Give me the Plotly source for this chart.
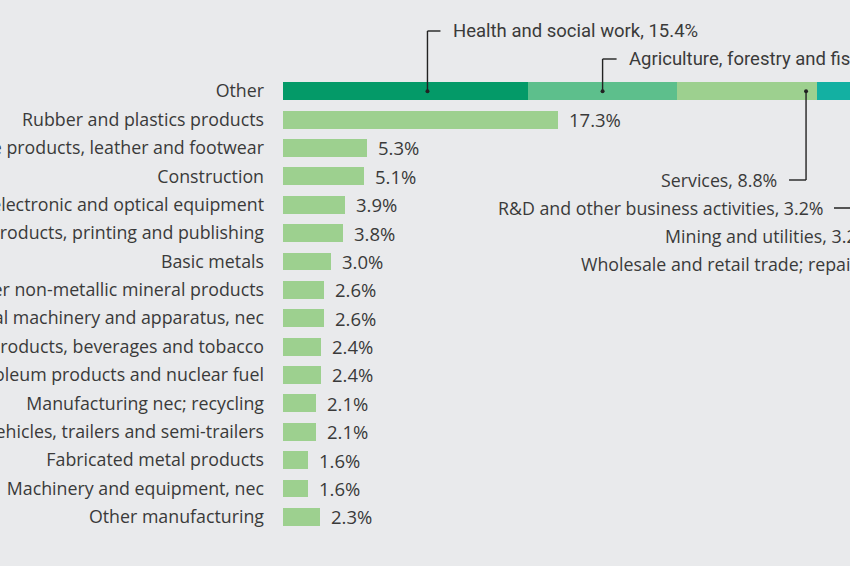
import plotly.graph_objects as go

# ---- data ----
categories = ["Rubber and plastics products",
              "Textiles, textile products, leather and footwear",
              "Construction",
              "Electrical, electronic and optical equipment",
              "Pulp, paper, paper products, printing and publishing",
              "Basic metals",
              "Other non-metallic mineral products",
              "Electrical machinery and apparatus, nec",
              "Food products, beverages and tobacco",
              "Coke, refined petroleum products and nuclear fuel",
              "Manufacturing nec; recycling",
              "Motor vehicles, trailers and semi-trailers",
              "Fabricated metal products",
              "Machinery and equipment, nec",
              "Other manufacturing"]
values = [17.3, 5.3, 5.1, 3.9, 3.8, 3.0, 2.6, 2.6, 2.4, 2.4, 2.1, 2.1, 1.6, 1.6, 2.3]

other_label = "Other"
other_segments = ["Health and social work", "Agriculture, forestry and fishing", "Services",
                  "R&D and other business activities", "Mining and utilities",
                  "Wholesale and retail trade; repairs"]
other_values = [15.4, 9.4, 8.8, 3.2, 3.2, 1.9]
other_colors = ["#049a68", "#5dbf8c", "#9dd08f", "#13b0a2", "#1a8fa8", "#3a6f9c"]
bar_color = "#9dd08f"

# ---- layout constants ----
W, H = 850, 566
ML, MR, MT, MB = 283, 0, 77, 35
PX_PER_UNIT = 15.9
xmax = (W - ML - MR) / PX_PER_UNIT
BG = "#e9eaec"
TXT = "#3a3a3a"
FONT = "Open Sans"
FS = 17.8
VFS = 18.5
CALLOUT_FONT = "Roboto"
CFS = 18.5

def px_to_py(p):
    return (H - MB - p) / (H - MT - MB)

def px_to_px(p):
    return (p - ML) / (W - ML - MR)

def data_to_px(x):
    return ML + x * PX_PER_UNIT

rows = [other_label] + categories

fig = go.Figure()
starts = []
cum = 0
for name, v, c in zip(other_segments, other_values, other_colors):
    starts.append(cum)
    fig.add_trace(go.Bar(x=[v], y=[other_label], orientation="h", marker_color=c,
                         marker_line_width=0, name=name, hoverinfo="x+name"))
    cum += v
fig.add_trace(go.Bar(x=values, y=categories, orientation="h", marker_color=bar_color,
                     marker_line_width=0, name="Manufacturing"))

annotations = []
for cat, v in zip(categories, values):
    annotations.append(dict(x=v, y=cat, xref="x", yref="y", text=f"{v:.1f}%",
                            showarrow=False, xanchor="left", xshift=9,
                            font=dict(family=FONT, size=VFS, color=TXT)))

shapes = []
line_style = dict(color="#222222", width=1.4)

lead_frac = [0.59, 0.50, 0.92]
row0_y = 91

def seg_px(i):
    return data_to_px(starts[i] + lead_frac[i] * other_values[i])

hx = seg_px(0)
shapes.append(dict(type="line", xref="paper", yref="paper", x0=px_to_px(hx), x1=px_to_px(hx),
                   y0=px_to_py(row0_y), y1=px_to_py(31), line=line_style))
shapes.append(dict(type="line", xref="paper", yref="paper", x0=px_to_px(hx), x1=px_to_px(hx + 13),
                   y0=px_to_py(31), y1=px_to_py(31), line=line_style))
annotations.append(dict(x=px_to_px(hx + 24), y=px_to_py(31), xref="paper", yref="paper",
                        text=f"{other_segments[0]}, {other_values[0]}%", showarrow=False,
                        xanchor="left", yanchor="middle",
                        font=dict(family=CALLOUT_FONT, size=CFS, color=TXT)))
ax = seg_px(1)
shapes.append(dict(type="line", xref="paper", yref="paper", x0=px_to_px(ax), x1=px_to_px(ax),
                   y0=px_to_py(row0_y), y1=px_to_py(59), line=line_style))
shapes.append(dict(type="line", xref="paper", yref="paper", x0=px_to_px(ax), x1=px_to_px(ax + 14),
                   y0=px_to_py(59), y1=px_to_py(59), line=line_style))
annotations.append(dict(x=px_to_px(ax + 24), y=px_to_py(59), xref="paper", yref="paper",
                        text=f"{other_segments[1]}, {other_values[1]}%", showarrow=False,
                        xanchor="left", yanchor="middle",
                        font=dict(family=CALLOUT_FONT, size=CFS, color=TXT)))
sx = seg_px(2)
shapes.append(dict(type="line", xref="paper", yref="paper", x0=px_to_px(sx), x1=px_to_px(sx),
                   y0=px_to_py(row0_y), y1=px_to_py(180), line=line_style))
shapes.append(dict(type="line", xref="paper", yref="paper", x0=px_to_px(sx), x1=px_to_px(sx - 17),
                   y0=px_to_py(180), y1=px_to_py(180), line=line_style))
annotations.append(dict(x=px_to_px(sx - 27), y=px_to_py(180), xref="paper", yref="paper",
                        text=f"{other_segments[2]}, {other_values[2]}%", showarrow=False,
                        xanchor="right", yanchor="middle",
                        font=dict(family=FONT, size=FS, color=TXT)))
annotations.append(dict(x=px_to_px(826), y=px_to_py(208), xref="paper", yref="paper",
                        text=f"{other_segments[3]}, {other_values[3]}%", showarrow=False,
                        xanchor="right", yanchor="middle",
                        font=dict(family=FONT, size=FS, color=TXT)))
shapes.append(dict(type="line", xref="paper", yref="paper", x0=px_to_px(834), x1=px_to_px(880),
                   y0=px_to_py(208), y1=px_to_py(208), line=line_style))
annotations.append(dict(x=px_to_px(663), y=px_to_py(236), xref="paper", yref="paper",
                        text=f"{other_segments[4]}, {other_values[4]}%", showarrow=False,
                        xanchor="left", yanchor="middle",
                        font=dict(family=FONT, size=FS, color=TXT)))
annotations.append(dict(x=px_to_px(579), y=px_to_py(264), xref="paper", yref="paper",
                        text=f"{other_segments[5]}, {other_values[5]}%", showarrow=False,
                        xanchor="left", yanchor="middle",
                        font=dict(family=FONT, size=FS, color=TXT)))

dot_x = [starts[i] + lead_frac[i] * other_values[i] for i in range(3)]
fig.add_trace(go.Scatter(x=dot_x, y=[other_label] * 3, mode="markers",
                         marker=dict(color="#222222", size=4), hoverinfo="skip", showlegend=False))

fig.update_layout(
    width=W, height=H, barmode="stack", bargap=0.37, showlegend=False,
    paper_bgcolor=BG, plot_bgcolor=BG,
    margin=dict(l=ML, r=MR, t=MT, b=MB, autoexpand=False),
    xaxis=dict(range=[0, xmax], visible=False, fixedrange=True),
    yaxis=dict(categoryorder="array", categoryarray=rows,
               range=[len(rows) - 0.5, -0.5], autorange=False,
               showgrid=False, zeroline=False, showline=False, ticks="",
               ticklabelstandoff=18, automargin=False, fixedrange=True,
               tickfont=dict(family=FONT, size=FS, color=TXT)),
    annotations=annotations, shapes=shapes,
)
fig.write_html("out.html", config={"displayModeBar": False},
               post_script="document.body.style.margin='0';document.body.style.overflow='hidden';"
                           "document.documentElement.style.background='%s';" % BG)
